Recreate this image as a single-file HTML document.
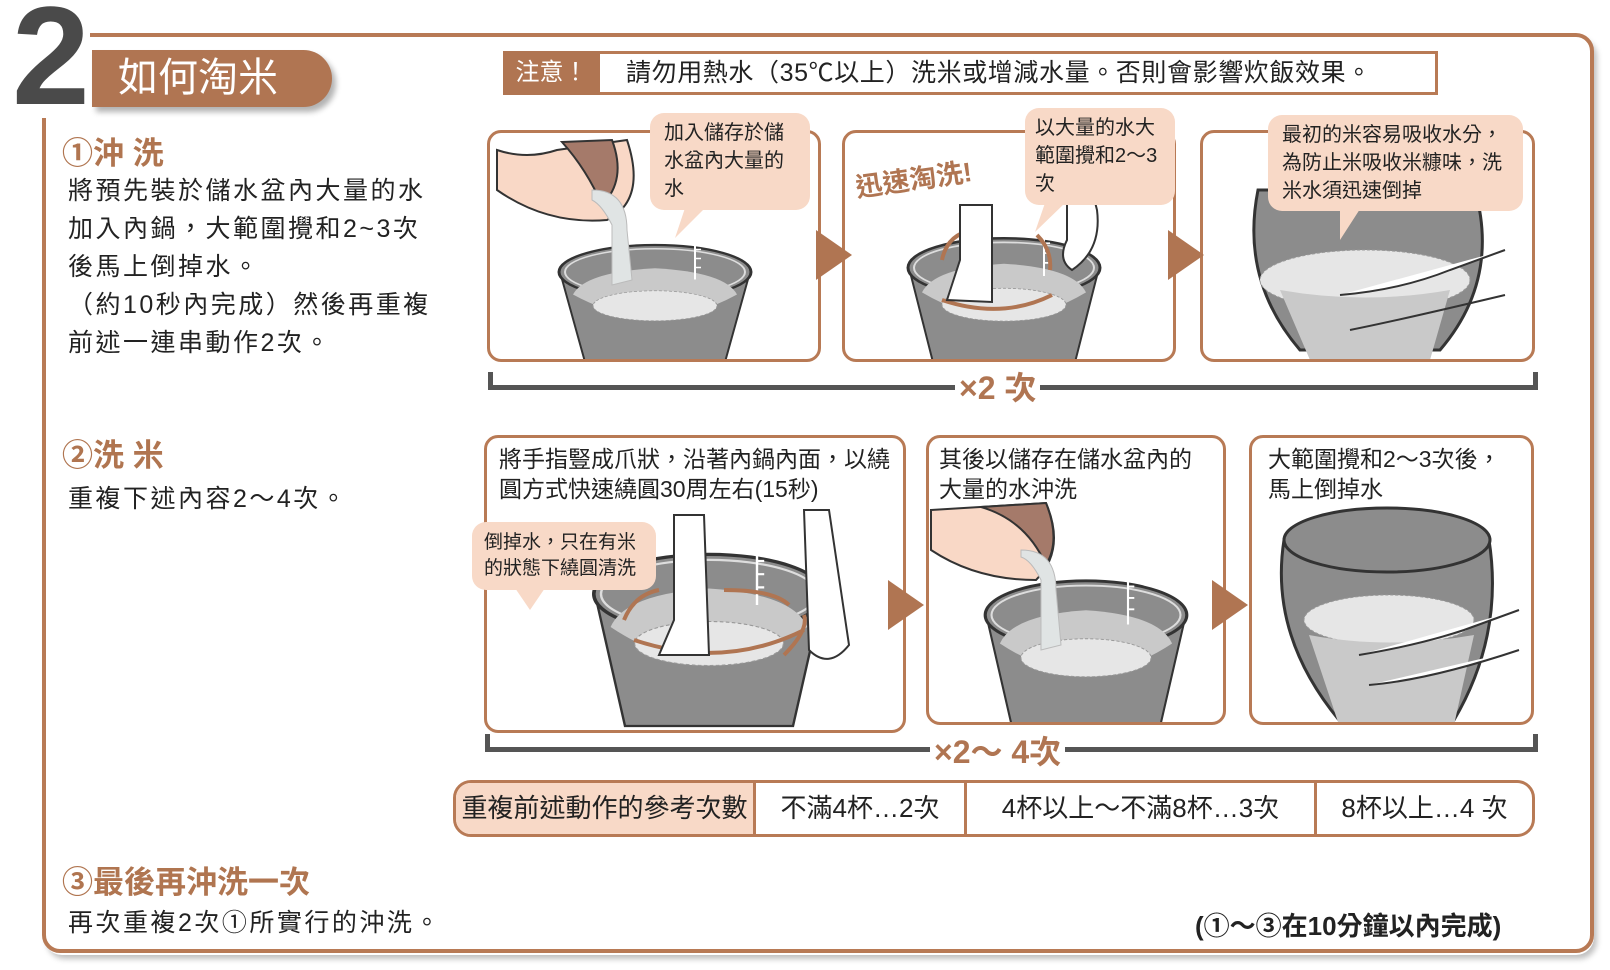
<!DOCTYPE html>
<html><head><meta charset="utf-8">
<style>
*{margin:0;padding:0;box-sizing:border-box}
body{width:1610px;height:970px;background:#fff;position:relative;overflow:hidden;font-family:"Liberation Sans","Noto Sans CJK TC",sans-serif;color:#222}
.a{position:absolute}
.panel{position:absolute;border:3px solid #b87a55;border-radius:14px;background:#fff}
.bub{position:absolute;background:#f8d9c7;border-radius:14px;font-size:20px;line-height:28px;padding:6px 14px;color:#222}
.h{color:#b07550;font-weight:bold;font-size:31px;position:absolute}
.p{position:absolute;font-size:25px;line-height:38px;color:#222;letter-spacing:2.5px}
.tri{position:absolute;width:0;height:0;border-top:25px solid transparent;border-bottom:25px solid transparent;border-left:36px solid #b07552}
.br{position:absolute;border:5px solid #555;border-top:none;height:18px}
.bt{position:absolute;background:#fff;color:#b07552;font-weight:bold;font-size:32px;padding:0 4px;line-height:34px}
</style></head><body>
<svg width="0" height="0" style="position:absolute">
<defs>
<g id="pot">
<path d="M5 40 L30 160 L170 160 L195 40 Z" fill="#8c8c8c" stroke="#333" stroke-width="2"/>
<ellipse cx="100" cy="40" rx="96" ry="36" fill="#8c8c8c" stroke="#333" stroke-width="3"/>
<ellipse cx="100" cy="40" rx="90" ry="31" fill="none" stroke="#ddd" stroke-width="2"/>
<path d="M18 70 Q100 130 182 70 Q170 40 100 35 Q30 40 18 70Z" fill="#c9c9c9"/>
<ellipse cx="100" cy="85" rx="62" ry="20" fill="#e6e6e6" stroke="#999" stroke-dasharray="3 2"/>
<path d="M140 0 V50 M140 10 h6 M140 22 h6 M140 34 h6" stroke="#fff" stroke-width="2"/>
</g>
</defs>
</svg>

<div class="a" style="left:44px;top:35px;width:1550px;height:920px;border-radius:18px;box-shadow:3px 4px 6px rgba(0,0,0,.25)"></div>
<div class="a" style="left:42px;top:33px;width:1552px;height:920px;border:4px solid #b87a55;border-radius:18px;background:#fff"></div>
<div class="a" style="left:0;top:0;width:90px;height:118px;background:#fff"></div>
<div class="a" style="left:12px;top:-14px;font-size:140px;font-weight:bold;color:#4a4a4a;line-height:140px;font-family:'Liberation Sans',sans-serif;letter-spacing:-4px">2</div>
<div class="a" style="left:92px;top:50px;width:240px;height:57px;background:#b07552;border-radius:0 30px 30px 0;box-shadow:4px 5px 6px rgba(0,0,0,.3);color:#fff;font-size:40px;line-height:57px;padding-left:26px">如何淘米</div>

<div class="a" style="left:503px;top:51px;width:935px;height:44px;border:3px solid #b87a55;background:#fff"></div>
<div class="a" style="left:503px;top:51px;width:97px;height:44px;background:#b07552;color:#fff;font-size:24px;line-height:44px;text-align:center">注意！</div>
<div class="a" style="left:626px;top:51px;font-size:25px;line-height:44px;color:#222;letter-spacing:0.6px">請勿用熱水（35℃以上）洗米或增減水量。否則會影響炊飯效果。</div>

<div class="h" style="left:62px;top:128px">①沖 洗</div>
<div class="p" style="left:68px;top:172px">將預先裝於儲水盆內大量的水<br>加入內鍋，大範圍攪和2~3次<br>後馬上倒掉水。<br>（約10秒內完成）然後再重複<br>前述一連串動作2次。</div>
<div class="h" style="left:62px;top:430px">②洗 米</div>
<div class="p" style="left:68px;top:480px">重複下述內容2〜4次。</div>
<div class="h" style="left:62px;top:857px">③最後再沖洗一次</div>
<div class="p" style="left:68px;top:904px">再次重複2次①所實行的沖洗。</div>
<div class="a" style="left:1195px;top:906px;font-size:26px;font-weight:bold;color:#222">(①〜③在10分鐘以內完成)</div>

<div class="panel" style="left:487px;top:130px;width:334px;height:232px;overflow:hidden">
<svg width="334" height="232" style="position:absolute;left:-3px;top:-3px">
<use href="#pot" transform="translate(68,112) scale(1,0.75)"/>
<path d="M10 20 Q40 30 70 20 L140 10 Q160 70 120 90 Q60 95 10 60Z" fill="#f9d8c6" stroke="#333" stroke-width="2"/>
<path d="M75 12 L125 10 Q140 50 115 75 Q100 40 75 12Z" fill="#a57a6a" stroke="#333" stroke-width="2"/>
<path d="M105 60 Q140 60 140 100 L145 150 L125 155 L125 95 Q115 75 105 70Z" fill="#e0e4e4" stroke="#bbb"/>
</svg></div>
<div class="panel" style="left:842px;top:130px;width:334px;height:232px;overflow:hidden">
<svg width="334" height="232" style="position:absolute;left:-3px;top:-3px">
<use href="#pot" transform="translate(62,105) scale(1,0.82)"/>
<path d="M100 170 Q160 190 210 165 M100 130 Q105 105 130 100 M195 105 Q210 120 208 140" stroke="#b07552" stroke-width="4" fill="none"/>
<path d="M118 75 L118 130 L105 170 L150 172 L150 75Z" fill="#fff" stroke="#333" stroke-width="2"/>
<path d="M225 60 L225 110 Q215 130 230 140 Q260 120 255 80 L250 60Z" fill="#fff" stroke="#333" stroke-width="2"/>
</svg></div>
<div class="panel" style="left:1200px;top:130px;width:335px;height:232px;overflow:hidden">
<svg width="335" height="232" style="position:absolute;left:-3px;top:-3px">
<path d="M58 60 Q40 150 100 220 L240 220 Q300 150 275 60Z" fill="#8c8c8c" stroke="#333" stroke-width="3"/>
<ellipse cx="165" cy="150" rx="105" ry="30" fill="#e6e6e6" stroke="#999" stroke-dasharray="3 2"/>
<path d="M80 160 Q165 175 250 160 L230 230 L110 230Z" fill="#c9c9c9"/>
<path d="M140 165 Q200 160 250 140 L305 120 M150 200 Q200 190 305 165" stroke="#333" stroke-width="2" fill="#fff"/>
</svg></div>

<div class="bub" style="left:650px;top:113px;width:160px;height:97px">加入儲存於儲<br>水盆內大量的<br>水</div>
<div class="bub" style="left:1025px;top:108px;width:150px;height:97px;white-space:nowrap;padding:6px 10px">以大量的水大<br>範圍攪和2〜3<br>次</div>
<div class="bub" style="left:1268px;top:115px;width:255px;height:96px">最初的米容易吸收水分，<br>為防止米吸收米糠味，洗<br>米水須迅速倒掉</div>
<svg class="a" style="left:0;top:0" width="1610" height="970">
<path d="M685 208 L675 238 L705 208Z" fill="#f8d9c7"/>
<path d="M1045 203 L1035 232 L1065 203Z" fill="#f8d9c7"/>
<path d="M1340 209 L1340 240 L1360 209Z" fill="#f8d9c7"/>
</svg>
<div class="a" style="left:855px;top:158px;font-size:27px;font-weight:bold;color:#b07552;transform:rotate(-8deg)">迅速淘洗!</div>

<div class="tri" style="left:816px;top:230px"></div>
<div class="tri" style="left:1168px;top:230px"></div>

<div class="br" style="left:488px;top:372px;width:1050px"></div>
<div class="bt" style="left:955px;top:371px">×2 次</div>

<div class="panel" style="left:484px;top:435px;width:422px;height:298px;overflow:hidden">
<svg width="422" height="298" style="position:absolute;left:-3px;top:-3px">
<use href="#pot" transform="translate(105,115) scale(1.2,1.1)"/>
<path d="M150 205 Q240 235 320 195 M140 185 Q150 160 175 155 M240 155 Q290 155 305 170 M320 180 Q325 195 300 220" stroke="#b07552" stroke-width="4" fill="none"/>
<path d="M190 80 L190 185 L175 220 L225 220 L220 80Z" fill="#fff" stroke="#333" stroke-width="2"/>
<path d="M320 75 L325 215 Q345 235 365 210 L345 75Z" fill="#fff" stroke="#333" stroke-width="2"/>
</svg>
<div class="a" style="left:12px;top:6px;font-size:23px;line-height:30px;color:#222">將手指豎成爪狀，沿著內鍋內面，以繞<br>圓方式快速繞圓30周左右(15秒)</div>
</div>
<div class="bub" style="left:472px;top:522px;width:184px;height:68px;font-size:19px;line-height:26px;padding:8px 12px">倒掉水，只在有米<br>的狀態下繞圓清洗</div>
<svg class="a" style="left:0;top:0" width="1610" height="970"><path d="M515 588 L530 610 L545 588Z" fill="#f8d9c7"/></svg>

<div class="panel" style="left:926px;top:435px;width:300px;height:290px;overflow:hidden">
<svg width="300" height="290" style="position:absolute;left:-3px;top:-3px">
<use href="#pot" transform="translate(55,142) scale(1.05,0.95)"/>
<path d="M5 75 L120 68 Q140 115 110 145 Q50 145 5 115Z" fill="#f9d8c6" stroke="#333" stroke-width="2"/>
<path d="M55 72 L120 68 Q135 105 120 130 Q100 85 55 72Z" fill="#a57a6a" stroke="#333" stroke-width="2"/>
<path d="M95 115 Q130 115 130 155 L135 210 L115 215 L115 145 Q105 125 95 122Z" fill="#e0e4e4" stroke="#bbb"/>
</svg>
<div class="a" style="left:10px;top:6px;font-size:23px;line-height:30px;color:#222">其後以儲存在儲水盆內的<br>大量的水沖洗</div>
</div>
<div class="panel" style="left:1249px;top:435px;width:285px;height:290px;overflow:hidden">
<svg width="285" height="290" style="position:absolute;left:-3px;top:-3px">
<path d="M35 105 Q20 200 90 285 L205 285 Q255 200 240 105Z" fill="#8c8c8c" stroke="#333" stroke-width="3"/>
<ellipse cx="138" cy="105" rx="103" ry="32" fill="#8c8c8c" stroke="#333" stroke-width="3"/>
<ellipse cx="140" cy="185" rx="85" ry="25" fill="#e6e6e6" stroke="#999" stroke-dasharray="3 2"/>
<path d="M60 200 Q140 215 225 200 L205 290 L90 290Z" fill="#c9c9c9"/>
<path d="M110 220 Q170 210 215 195 L270 175 M120 250 Q180 245 270 215" stroke="#333" stroke-width="2" fill="#fff"/>
</svg>
<div class="a" style="left:16px;top:6px;font-size:23px;line-height:30px;color:#222">大範圍攪和2〜3次後，<br>馬上倒掉水</div>
</div>

<div class="tri" style="left:888px;top:580px"></div>
<div class="tri" style="left:1212px;top:580px"></div>

<div class="br" style="left:485px;top:734px;width:1053px"></div>
<div class="bt" style="left:930px;top:735px">×2〜 4次</div>

<div class="a" style="left:453px;top:780px;width:1082px;height:57px;border:3px solid #b87a55;border-radius:18px;overflow:hidden;display:flex;font-size:26px;line-height:51px">
<div style="width:300px;background:#f8d9c7;border-right:3px solid #b87a55;text-align:center">重複前述動作的參考次數</div>
<div style="width:211px;border-right:3px solid #b87a55;text-align:center">不滿4杯…2次</div>
<div style="width:350px;border-right:3px solid #b87a55;text-align:center">4杯以上〜不滿8杯…3次</div>
<div style="flex:1;text-align:center">8杯以上…4 次</div>
</div>
</body></html>
